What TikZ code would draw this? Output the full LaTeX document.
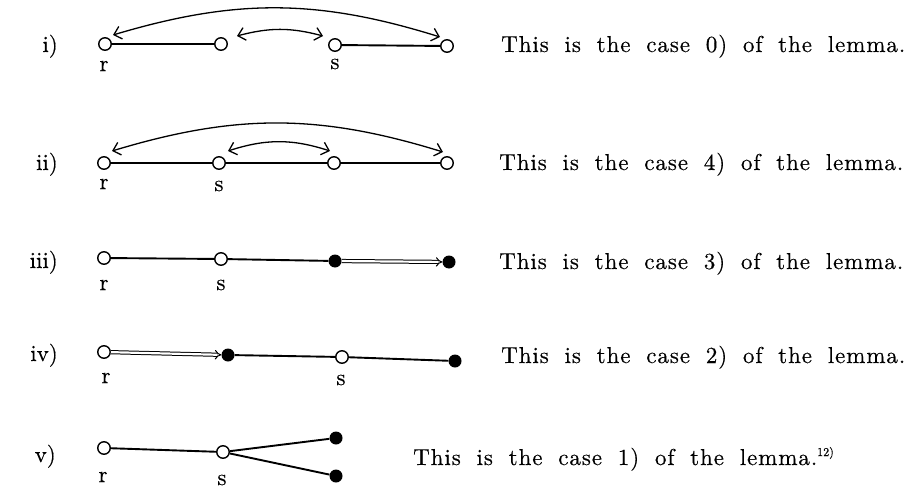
\documentclass[tikz,border=0pt]{standalone}
\usepackage{fontspec}
\usetikzlibrary{arrows.meta}
\newfontfamily\labelfont{lmroman10-regular.otf}[FakeBold=0.4]
\newfontfamily\casefont{lmroman10-regular.otf}[LetterSpace=4,FakeBold=0.4]
\newcommand\casebox[1]{\makebox[404pt][s]{\casefont #1}}

\begin{document}
\begin{tikzpicture}[x=1pt,y=-1pt,
  font=\labelfont\fontsize{23}{27}\selectfont,
  opennode/.style={circle,draw,line width=1.4pt,fill=white,inner sep=0pt,minimum size=12.5pt},
  fullnode/.style={circle,fill=black,inner sep=0pt,minimum size=13pt},
  edgeline/.style={line width=1.9pt},
  swaparc/.style={line width=1.3pt,
    {Straight Barb[length=7pt,width=13pt]}-{Straight Barb[length=7pt,width=13pt]}},
  carry/.style={double,double distance=2.2pt,line width=1pt,-{Implies}},
  numlabel/.style={anchor=base east,inner sep=0pt},
  vlabel/.style={inner sep=0pt},
  caselabel/.style={anchor=base west,inner sep=0pt}
]
  \useasboundingbox (0,0) rectangle (917,492);

  % i)
  \node[numlabel] (n1) at (58,52) {i)};
  \node[opennode] (r1) at (105,44) {};
  \node[opennode] (a1) at (221,44) {};
  \node[opennode] (s1) at (335,45) {};
  \node[opennode] (b1) at (447,46) {};
  \draw[edgeline] (r1) -- (a1);
  \draw[edgeline] (s1) -- (b1);
  \draw[swaparc] ([xshift=8pt,yshift=9pt]r1.center) to[bend left=17]
    ([xshift=-7pt,yshift=9pt]b1.center);
  \draw[swaparc] ([xshift=16pt,yshift=8pt]a1.center) to[bend left=15]
    ([xshift=-12pt,yshift=9pt]s1.center);
  \node[vlabel] (lr1) at (104,66) {r};
  \node[vlabel] (ls1) at (335,64) {s};
  \node[caselabel] (c1) at (501,52) {\casebox{This is the case 0) of the lemma.}};

  % ii)
  \node[numlabel] (n2) at (58,170) {ii)};
  \node[opennode] (r2) at (104,163) {};
  \node[opennode] (a2) at (219,163) {};
  \node[opennode] (s2) at (334,163) {};
  \node[opennode] (b2) at (447,163) {};
  \draw[edgeline] (r2) -- (a2) -- (s2) -- (b2);
  \draw[swaparc] ([xshift=8pt,yshift=12pt]r2.center) to[bend left=17]
    ([xshift=-4pt,yshift=11pt]b2.center);
  \draw[swaparc] ([xshift=9pt,yshift=12pt]a2.center) to[bend left=18]
    ([xshift=-4pt,yshift=12pt]s2.center);
  \node[vlabel] (lr2) at (104,184) {r};
  \node[vlabel] (ls2) at (219,186) {s};
  \node[caselabel] (c2) at (499,170) {\casebox{This is the case 4) of the lemma.}};

  % iii)
  \node[numlabel] (n3) at (58,268) {iii)};
  \node[opennode] (r3) at (104,258) {};
  \node[opennode] (s3) at (221,259) {};
  \node[fullnode] (f3) at (335,261) {};
  \node[fullnode] (g3) at (449,262) {};
  \draw[edgeline] (r3) -- (s3) -- (f3);
  \draw[carry] (f3) -- (g3);
  \node[vlabel] (lr3) at (104,285) {r};
  \node[vlabel] (ls3) at (221,285) {s};
  \node[caselabel] (c3) at (499,269) {\casebox{This is the case 3) of the lemma.}};

  % iv)
  \node[numlabel] (n4) at (58,361) {iv)};
  \node[opennode] (r4) at (104,352) {};
  \node[fullnode] (f4) at (228,355) {};
  \node[opennode] (s4) at (342,357) {};
  \node[fullnode] (g4) at (455,361) {};
  \draw[carry] (r4) -- (f4);
  \draw[edgeline] (f4) -- (s4) -- (g4);
  \node[vlabel] (lr4) at (106,378) {r};
  \node[vlabel] (ls4) at (341,380) {s};
  \node[caselabel] (c4) at (501,363) {\casebox{This is the case 2) of the lemma.}};

  % v)
  \node[numlabel] (n5) at (56,462) {v)};
  \node[opennode] (r5) at (104,448) {};
  \node[opennode] (s5) at (223,452) {};
  \node[fullnode] (u5) at (336,438) {};
  \node[fullnode] (w5) at (336,476) {};
  \draw[edgeline] (r5) -- (s5) -- (u5);
  \draw[edgeline] (s5) -- (w5);
  \node[vlabel] (lr5) at (103,477) {r};
  \node[vlabel] (ls5) at (222,480) {s};
  \node[caselabel] (c5) at (413,465)
    {\casebox{This is the case 1) of the lemma.}\raisebox{9pt}{\fontsize{12}{13}\selectfont 12)}};
\end{tikzpicture}
\end{document}
